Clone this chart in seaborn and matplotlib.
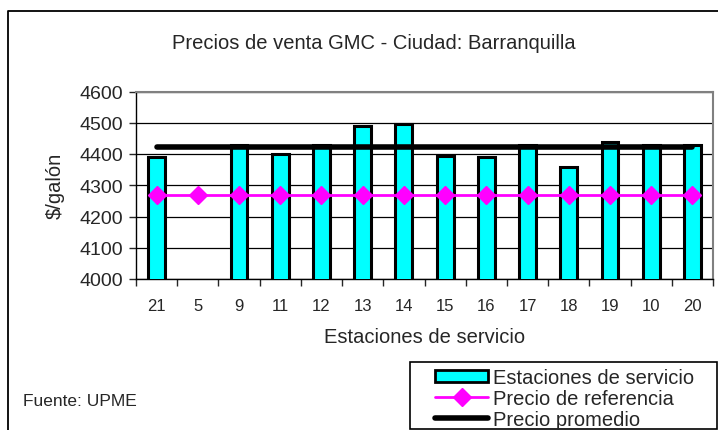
import numpy as np
import pandas as pd
import matplotlib
matplotlib.use("Agg")
import matplotlib.pyplot as plt
import seaborn as sns
from matplotlib.patches import Patch, Rectangle
from matplotlib.lines import Line2D

stations = ["21", "5", "9", "11", "12", "13", "14", "15", "16", "17", "18", "19", "10", "20"]
prices = [4390, np.nan, 4430, 4400, 4430, 4490, 4495, 4395, 4390, 4430, 4357, 4438, 4430, 4430]
ref_price = [4270] * 14
avg_price = [4422] * 14

sns.set_style("white")
plt.rcParams['font.family'] = ['Liberation Sans', 'DejaVu Sans']

df = pd.DataFrame({"Estación": stations, "Precio": prices,
                   "Referencia": ref_price, "Promedio": avg_price})

W, H = 718, 431
fig = plt.figure(figsize=(W / 100, H / 100), dpi=100)
ax = fig.add_axes([136 / W, 1 - 280 / H, (713 - 136) / W, (280 - 92.5) / H])

sns.barplot(data=df, x="Estación", y="Precio", order=stations, color="#00FFFF",
            edgecolor="black", linewidth=2.2, width=0.41, ax=ax, zorder=3, saturation=1)
xs = np.arange(len(stations))
ax.plot(xs, df["Referencia"], color="#FF00FF", lw=2, marker="D", ms=9, zorder=4)
ax.plot(xs, df["Promedio"], color="black", lw=4, zorder=5)

ax.set_ylim(4000, 4600)
ax.set_xlim(-0.5, len(stations) - 0.5)
ax.set_yticks(range(4000, 4601, 100))
ax.yaxis.grid(True, color="black", lw=0.9)
ax.set_axisbelow(True)
ax.tick_params(axis="y", labelsize=14, length=5, direction="out", left=True, width=1, pad=4)
ax.tick_params(axis="x", labelsize=12, length=0, pad=14)
ax.set_xticks(np.arange(-0.5, len(stations), 1), minor=True)
ax.tick_params(axis="x", which="minor", length=5, direction="out", bottom=True, width=1)
for s in ["left", "bottom"]:
    ax.spines[s].set_color("black")
    ax.spines[s].set_linewidth(1)
for s in ["top", "right"]:
    ax.spines[s].set_color("#808080")
    ax.spines[s].set_linewidth(1.5)
ax.set_xlabel("")
ax.set_ylabel("")

fig.text(374 / W, 1 - 44 / H, "Precios de venta GMC - Ciudad: Barranquilla",
         ha="center", va="center", fontsize=14.5)
fig.text(425 / W, 1 - 338 / H, "Estaciones de servicio", ha="center", va="center", fontsize=14.5)
fig.text(55 / W, 1 - 186 / H, "$/galón", ha="center", va="center", rotation=90, fontsize=14.5)
fig.text(23 / W, 1 - 402 / H, "Fuente: UPME", ha="left", va="center", fontsize=12.5)

handles = [Patch(facecolor="#00FFFF", edgecolor="black", linewidth=2),
           Line2D([], [], color="#FF00FF", lw=2, marker="D", ms=9),
           Line2D([], [], color="black", lw=4)]
labels = ["Estaciones de servicio", "Precio de referencia", "Precio promedio"]
leg = fig.legend(handles, labels, loc="upper left", bbox_to_anchor=(435 / W, 1 - 369 / H),
                 fontsize=14.5, frameon=False,
                 handlelength=2.65, handleheight=0.6, handletextpad=0.25, labelspacing=0.1,
                 borderpad=0, borderaxespad=0)

fig.patches.append(Rectangle((410 / W, 1 - 430 / H), (717 - 410) / W, (430 - 363) / H,
                             transform=fig.transFigure, fill=False, edgecolor="black", lw=1.2))
fig.lines.append(Line2D([8 / W, 8 / W, 1], [0, 1 - 12 / H, 1 - 12 / H],
                        transform=fig.transFigure, color="black", lw=1.3))

fig.savefig("out.png", dpi=100)
